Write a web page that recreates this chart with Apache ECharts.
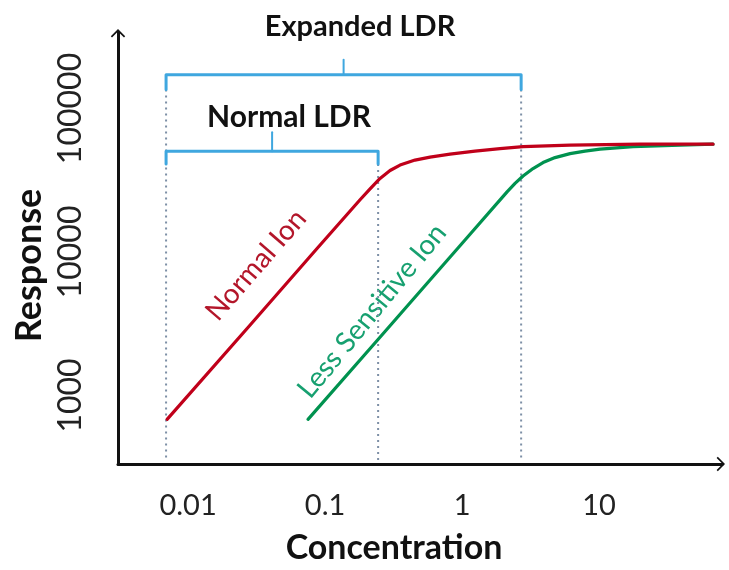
<!DOCTYPE html>
<html>
<head>
<meta charset="utf-8">
<script src="https://cdn.jsdelivr.net/npm/echarts@6/dist/echarts.min.js"></script>
<style>
  html, body { margin: 0; padding: 0; background: #fff; }
  #chart { width: 729px; height: 570px; }
</style>
</head>
<body>
<div id="chart"></div>
<script>
// ---- data ----
const xTickLabels = [0.01, 0.1, 1, 10];
const yTickLabels = [1000, 10000, 100000];

const normalConc = [0.00703, 0.0284, 0.0874, 0.1801, 0.2131, 0.2520, 0.2981, 0.3527, 0.4538, 0.5840, 0.8174, 1.244, 1.894, 2.788, 6.143, 19.92, 67.95];
const normalResp = [682, 3100, 10570, 23090, 27500, 32520, 36940, 40320, 43670, 45800, 48050, 50400, 52450, 54150, 55460, 56350, 56350];

const lessConc = [0.0751, 0.240, 0.519, 1.144, 2.131, 2.437, 2.788, 3.299, 3.901, 4.773, 6.143, 7.903, 10.17, 17.71, 39.0, 67.95];
const lessResp = [682, 2415, 5612, 13280, 26220, 30030, 33840, 38140, 41970, 45450, 48430, 50400, 52040, 54150, 55460, 56350];

const normalLDR = [0.00691, 0.244];
const expandedLDR = [0.00691, 2.70];
// bracket response levels: [end of legs, bar, top of centre tick]
const normalBracket = [40990, 50400, 68220];
const expandedBracket = [135400, 171900, 218300];
const dashBottom = 355;

const xRange = [0.00308, 79];
const yRange = [333, 341000];

// ---- helpers ----
const zip = (xs, ys) => xs.map((x, i) => [x, ys[i]]);
const isTick = (v, ticks) => ticks.some(t => Math.abs(Math.log10(v) - Math.log10(t)) < 1e-6);
const bracketLegs = (r, b) => [[r[0], b[0]], [r[0], b[1]], [r[1], b[1]], [r[1], b[0]]];
const bracketTick = (r, b) => { const c = Math.sqrt(r[0] * r[1]); return [[c, b[1]], [c, b[2]]]; };

const arrow = 'path://M1,9L10,0L19,9L17.5,10.5L10,3L2.5,10.5Z M9,3L11,3L11,20L9,20Z';
const FONT = 'Lato';
const blue = '#3fa7df';
const dashColor = '#7d8fa6';

const lineSeries = (data, color, width, extra) => Object.assign({
  type: 'line', data, showSymbol: false, symbol: 'none', silent: true,
  lineStyle: { color, width, join: 'round', cap: 'round' }, z: 3, animation: false
}, extra || {});

const chart = echarts.init(document.getElementById('chart'), null, { renderer: 'canvas' });
chart.setOption({
  animation: false,
  backgroundColor: '#fff',
  grid: { left: 118, right: 7, top: 32, bottom: 103, containLabel: false },
  xAxis: {
    type: 'log', logBase: 10, min: xRange[0], max: xRange[1],
    axisLine: { show: true, lineStyle: { color: '#111', width: 3 }, symbol: ['none', arrow], symbolSize: [18, 16], symbolOffset: [0, -5] },
    axisTick: { show: false }, splitLine: { show: false },
    axisLabel: {
      fontSize: 29, fontFamily: FONT, color: '#222', margin: 27,
      showMinLabel: false, showMaxLabel: false,
      formatter: v => isTick(v, xTickLabels) ? String(xTickLabels.find(t => isTick(v, [t]))) : ''
    },
    name: 'Concentration', nameLocation: 'middle', nameGap: 67,
    nameTextStyle: { fontSize: 34, fontWeight: 'bold', fontFamily: FONT, color: '#111', padding: [0, 52, 0, 0] }
  },
  yAxis: {
    type: 'log', logBase: 10, min: yRange[0], max: yRange[1],
    axisLine: { show: true, lineStyle: { color: '#111', width: 3 }, symbol: ['none', arrow], symbolSize: [18, 16], symbolOffset: [0, -5] },
    axisTick: { show: false }, splitLine: { show: false },
    axisLabel: {
      rotate: 90, fontSize: 32, fontFamily: FONT, color: '#222', margin: 31,
      showMinLabel: false, showMaxLabel: false,
      formatter: v => isTick(v, yTickLabels) ? String(yTickLabels.find(t => isTick(v, [t]))) : ''
    },
    name: 'Response', nameLocation: 'middle', nameRotate: 90, nameGap: 68,
    nameTextStyle: { fontSize: 36, fontWeight: 'bold', fontFamily: FONT, color: '#111', padding: [0, 35, 0, 0] }
  },
  series: [
    lineSeries([[normalLDR[0], expandedBracket[0]], [normalLDR[0], dashBottom]], dashColor, 2, { lineStyle: { color: dashColor, width: 2, type: [2, 4] }, z: 1 }),
    lineSeries([[normalLDR[1], normalBracket[0]], [normalLDR[1], dashBottom]], dashColor, 2, { lineStyle: { color: dashColor, width: 2, type: [2, 4] }, z: 1 }),
    lineSeries([[expandedLDR[1], expandedBracket[0]], [expandedLDR[1], dashBottom]], dashColor, 2, { lineStyle: { color: dashColor, width: 2, type: [2, 4] }, z: 1 }),
    lineSeries(bracketLegs(expandedLDR, expandedBracket), blue, 3),
    lineSeries(bracketTick(expandedLDR, expandedBracket), blue, 2),
    lineSeries(bracketLegs(normalLDR, normalBracket), blue, 3),
    lineSeries(bracketTick(normalLDR, normalBracket), blue, 2),
    lineSeries(zip(lessConc, lessResp), '#00924f', 3.2, { name: 'Less Sensitive Ion', z: 4 }),
    lineSeries(zip(normalConc, normalResp), '#c0001a', 3.2, { name: 'Normal Ion', z: 5 })
  ],
  graphic: [
    { type: 'text', x: 360, y: 27, style: { text: 'Expanded LDR', align: 'center', verticalAlign: 'middle', font: 'bold 29px ' + FONT, fill: '#111' } },
    { type: 'text', x: 289, y: 117, style: { text: 'Normal LDR', align: 'center', verticalAlign: 'middle', font: 'bold 30px ' + FONT, fill: '#111' } },
    { type: 'text', x: 256, y: 265, rotation: 49 * Math.PI / 180, style: { text: 'Normal Ion', align: 'center', verticalAlign: 'middle', font: '28px ' + FONT, fill: '#b3162a' } },
    { type: 'text', x: 372, y: 311, rotation: 50.5 * Math.PI / 180, style: { text: 'Less Sensitive Ion', align: 'center', verticalAlign: 'middle', font: '28px ' + FONT, fill: '#17a070' } }
  ]
});
</script>
</body>
</html>
